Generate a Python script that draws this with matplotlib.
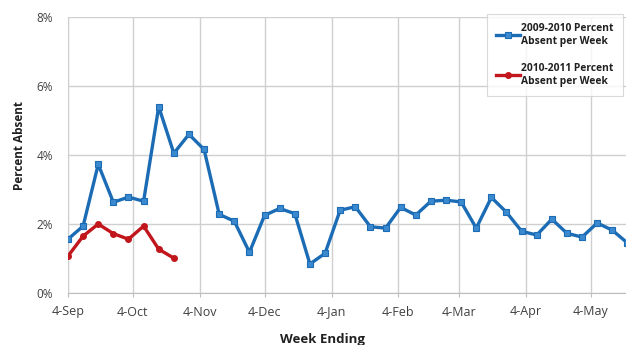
#!/usr/bin/env python3
"""Weekly percent of students absent, two school years on one calendar axis."""

import matplotlib
matplotlib.use("Agg")
import matplotlib.dates as mdates
import matplotlib.pyplot as plt
import pandas as pd
from matplotlib.ticker import FuncFormatter

# weekly absence, percent
absent_2009_2010 = [
    1.56, 1.94, 3.73, 2.63, 2.78, 2.66, 5.40, 4.05, 4.60, 4.16,
    2.28, 2.08, 1.18, 2.25, 2.45, 2.30, 0.84, 1.15, 2.40, 2.50,
    1.92, 1.88, 2.48, 2.26, 2.66, 2.69, 2.64, 1.88, 2.77, 2.34,
    1.79, 1.68, 2.14, 1.73, 1.62, 2.03, 1.82, 1.45,
]
absent_2010_2011 = [1.07, 1.65, 2.00, 1.72, 1.56, 1.94, 1.27, 1.01]

first_week = "2009-09-04"
label_2009 = "2009-2010 Percent\nAbsent per Week"
label_2010 = "2010-2011 Percent\nAbsent per Week"
title = "Percent of Students Absent Due to Illness"
y_ticks = [0, 2, 4, 6, 8]

weeks = pd.date_range(first_week, periods=len(absent_2009_2010), freq="7D")
month_ticks = pd.date_range("2009-09-01", "2010-05-01", freq="MS") + pd.Timedelta(days=3)

plt.rcParams["font.family"] = ["Open Sans", "DejaVu Sans"]

W, H = 626, 345
fig = plt.figure(figsize=(W / 100, H / 100), dpi=100)
ax = fig.add_axes([68 / W, 1 - 293 / H, (W - 68) / W, 276 / H])

ax.plot(weeks, absent_2009_2010, color="#1b6cb5", lw=2.4, marker="s", ms=4.4,
        mfc="#3b8ad0", mec="#1b6cb5", mew=0.8, label=label_2009, zorder=3)
ax.plot(weeks[:len(absent_2010_2011)], absent_2010_2011, color="#c0161c", lw=2.4,
        marker="o", ms=4.0, mfc="#c0161c", mec="#c0161c", label=label_2010, zorder=3)

ax.set_xlim(pd.Timestamp("2009-09-04"), pd.Timestamp("2010-05-20 08:00"))
ax.set_ylim(0, 8)
ax.set_yticks(y_ticks)
ax.yaxis.set_major_formatter(FuncFormatter(lambda v, _: f"{v:.0f}%"))
ax.set_xticks(month_ticks)
ax.xaxis.set_major_formatter(mdates.DateFormatter("%-d-%b"))

ax.grid(True, color="#cfcfcf", lw=1.0)
ax.set_axisbelow(True)
for side in ("top", "right"):
    ax.spines[side].set_visible(False)
ax.spines["left"].set_color("#cfcfcf")
ax.spines["bottom"].set_color("#bdbdbd")
ax.tick_params(axis="x", length=3, color="#bdbdbd", labelsize=9, labelcolor="#404040", pad=6)
ax.tick_params(axis="y", length=0, labelsize=8.5, labelcolor="#404040", pad=11)

# axis titles placed where the original chart has them
fig.text(20 / W, 1 - 145 / H, "Percent Absent", rotation=90, ha="center", va="center",
         fontsize=8.5, fontweight="bold", color="#202020")
fig.text(322 / W, 1 - 339 / H, "Week Ending", ha="center", va="center",
         fontsize=9.5, fontweight="bold", color="#202020")

# title is cut off by the crop, only its lower edge shows
fig.text(0.505, 1 + 0.3 / H, title, ha="center", va="baseline", fontsize=23,
         fontweight="bold", color="#4aa04a")

leg = fig.legend(loc="upper left", bbox_to_anchor=(487 / W, 1 - 14 / H),
                 frameon=True, fancybox=False, handlelength=2.3,
                 handletextpad=0.1, labelspacing=1.6, borderpad=0.9, borderaxespad=0,
                 prop={"weight": "bold", "size": 7.4})
leg.get_frame().set_edgecolor("#d0d0d0")
leg.get_frame().set_linewidth(0.8)
for text in leg.get_texts():
    text.set_color("#202020")

fig.savefig("out.png", dpi=100)
print("ok,plot_saved,out.png")
